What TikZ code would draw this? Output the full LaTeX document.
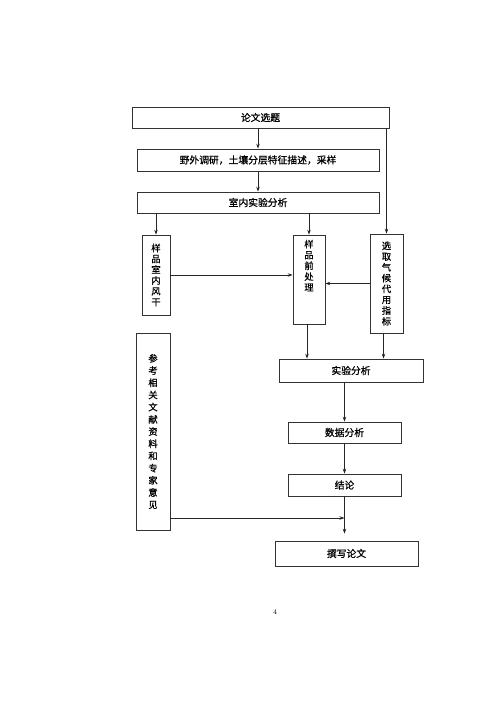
\documentclass[tikz,border=0pt]{standalone}
\usepackage{fontspec}
\newfontfamily\cjk[BoldFont={Noto Sans CJK SC}, BoldFeatures={FakeBold=0.8}]{Noto Sans CJK SC}
\usepackage{tikz}
\usetikzlibrary{arrows.meta, positioning}

\begin{document}
\begin{tikzpicture}[
  x=1pt, y=-1pt,
  box/.style={rectangle, draw=black!80, line width=0.7pt,
              inner sep=0pt, font=\cjk\bfseries\fontsize{9.8}{11}\selectfont, text centered},
  vbox/.style={box, align=center, font=\cjk\bfseries\fontsize{9.3}{10.8}\selectfont},
  vtext/.style={inner sep=0pt, align=center, font=\cjk\bfseries\fontsize{9.3}{10.8}\selectfont},
  arrow/.style={-{Stealth[length=5pt,width=3.5pt]}, line width=0.7pt, black!85}
]
\useasboundingbox (0,0) rectangle (500,704);

\node[box, minimum width=257pt, minimum height=21pt] (topic) at (260.5,117.5) {论文选题};
\node[box, minimum width=242pt, minimum height=22pt] (field) at (258,160)   {野外调研，土壤分层特征描述，采样};
\node[box, minimum width=242pt, minimum height=21pt] (lab)   at (258,202.5) {室内实验分析};

\node[vbox, minimum width=28pt, minimum height=80pt] (dry) at (156,275)   {样\\品\\室\\内\\风\\干};
\node[vbox, minimum width=32pt, minimum height=89pt] (pre) at (309,279.5) {};
\node[vtext, below=5pt of pre.north] (pretxt) {样\\品\\前\\处\\理};
\node[vbox, minimum width=33pt, minimum height=99pt] (proxy) at (386.5,283.5)
     {选\\取\\气\\候\\代\\用\\指\\标};

\node[box, minimum width=144pt, minimum height=23pt] (exp)   at (351,370.5) {实验分析};
\node[vbox, minimum width=34pt, minimum height=197pt,
      font=\cjk\bfseries\fontsize{9.3}{12.2}\selectfont] (ref) at (153,431.5)
     {参\\考\\相\\关\\文\\献\\资\\料\\和\\专\\家\\意\\见};
\node[box, minimum width=113pt, minimum height=21pt] (data)  at (344.5,432.5) {数据分析};
\node[box, minimum width=113pt, minimum height=22pt] (concl) at (344.5,485)   {结论};
\node[box, minimum width=143pt, minimum height=25pt] (write) at (346.5,553.5) {撰写论文};

\node[font=\fontsize{7}{8}\selectfont] (page) at (275,612) {4};

% main flow
\draw[arrow] (field.north |- topic.south) -- (field.north);
\draw[arrow] (field.south) -- (lab.north);
\draw[arrow] (proxy.north |- topic.south) -- (proxy.north);
\draw[arrow] (dry.north |- lab.south) -- (dry.north);
\draw[arrow] (pre.north |- lab.south) -- (pre.north);
\draw[arrow] (dry.east) -- (dry.east -| pre.west);
\draw[arrow] (proxy.west) -- (proxy.west -| pre.east);
\draw[arrow] ([xshift=-2pt]pre.south) -- ([xshift=-2pt]pre.south |- exp.north);
\draw[arrow] ([xshift=-3pt]proxy.south) -- ([xshift=-3pt]proxy.south |- exp.north);
\draw[arrow] (data.north |- exp.south) -- (data.north);
\draw[arrow] (data.south) -- (concl.north);
\draw[arrow, shorten >=7pt] (concl.south) -- (concl.south |- write.north);

% references join the flow
\coordinate (join) at (344.5,518);
\draw[arrow] (join -| ref.east) -- (join);
\end{tikzpicture}
\end{document}
